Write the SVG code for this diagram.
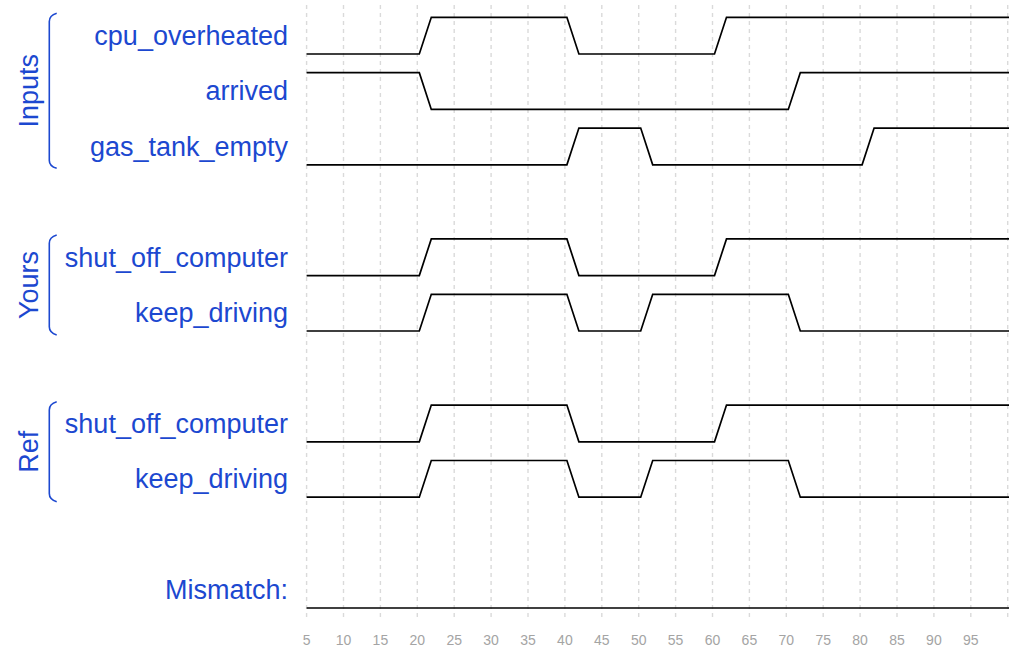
<svg xmlns="http://www.w3.org/2000/svg" width="1024" height="661" viewBox="0 0 1024 661">
<style>
.lbl{font-family:"Liberation Sans",Arial,sans-serif;font-size:27px;fill:#1c48d0;text-anchor:end}
.grp{font-family:"Liberation Sans",Arial,sans-serif;font-size:27px;fill:#1c48d0;text-anchor:middle}
.ax{font-family:"Liberation Sans",Arial,sans-serif;font-size:14px;fill:#a4a4a4;text-anchor:middle}
.grid line{stroke:#dadada;stroke-width:1.4;stroke-dasharray:4 4}
.wave{fill:none;stroke:#000;stroke-width:1.7;stroke-linejoin:miter}
.br{fill:none;stroke:#1c48d0;stroke-width:1.6}
</style>
<rect width="1024" height="661" fill="#fff"/>
<g id="grid" class="grid">
<line x1="306.6" y1="5" x2="306.6" y2="618"/>
<line x1="343.5" y1="5" x2="343.5" y2="618"/>
<line x1="380.4" y1="5" x2="380.4" y2="618"/>
<line x1="417.3" y1="5" x2="417.3" y2="618"/>
<line x1="454.2" y1="5" x2="454.2" y2="618"/>
<line x1="491.1" y1="5" x2="491.1" y2="618"/>
<line x1="528.0" y1="5" x2="528.0" y2="618"/>
<line x1="564.9" y1="5" x2="564.9" y2="618"/>
<line x1="601.8" y1="5" x2="601.8" y2="618"/>
<line x1="638.7" y1="5" x2="638.7" y2="618"/>
<line x1="675.6" y1="5" x2="675.6" y2="618"/>
<line x1="712.5" y1="5" x2="712.5" y2="618"/>
<line x1="749.4" y1="5" x2="749.4" y2="618"/>
<line x1="786.3" y1="5" x2="786.3" y2="618"/>
<line x1="823.2" y1="5" x2="823.2" y2="618"/>
<line x1="860.1" y1="5" x2="860.1" y2="618"/>
<line x1="897.0" y1="5" x2="897.0" y2="618"/>
<line x1="933.9" y1="5" x2="933.9" y2="618"/>
<line x1="970.8" y1="5" x2="970.8" y2="618"/>
<line x1="1007.7" y1="5" x2="1007.7" y2="618"/>
</g>
<g id="axis">
<text class="ax" x="306.6" y="645">5</text>
<text class="ax" x="343.5" y="645">10</text>
<text class="ax" x="380.4" y="645">15</text>
<text class="ax" x="417.3" y="645">20</text>
<text class="ax" x="454.2" y="645">25</text>
<text class="ax" x="491.1" y="645">30</text>
<text class="ax" x="528.0" y="645">35</text>
<text class="ax" x="564.9" y="645">40</text>
<text class="ax" x="601.8" y="645">45</text>
<text class="ax" x="638.7" y="645">50</text>
<text class="ax" x="675.6" y="645">55</text>
<text class="ax" x="712.5" y="645">60</text>
<text class="ax" x="749.4" y="645">65</text>
<text class="ax" x="786.3" y="645">70</text>
<text class="ax" x="823.2" y="645">75</text>
<text class="ax" x="860.1" y="645">80</text>
<text class="ax" x="897.0" y="645">85</text>
<text class="ax" x="933.9" y="645">90</text>
<text class="ax" x="970.8" y="645">95</text>
</g>
<g id="group-inputs">
<path class="br" d="M56.7 13.3 Q49.3 15.5 49.3 21.5 V160.5 Q49.3 166.3 56.7 168.3"/>
<text class="grp" transform="translate(38,90.8) rotate(-90)">Inputs</text>
</g>
<g id="group-yours">
<path class="br" d="M56.7 235 Q49.3 237.2 49.3 243.2 V326.8 Q49.3 332.8 56.7 335"/>
<text class="grp" transform="translate(38,285) rotate(-90)">Yours</text>
</g>
<g id="group-ref">
<path class="br" d="M56.7 401.7 Q49.3 403.9 49.3 409.9 V493.5 Q49.3 499.5 56.7 501.7"/>
<text class="grp" transform="translate(38,451.7) rotate(-90)">Ref</text>
</g>
<g id="sig-cpu_overheated">
<text class="lbl" x="288" y="45">cpu_overheated</text>
<path class="wave" d="M306.6 54 H419.3 L431.3 17.3 H566.9 L578.9 54 H714.5 L726.5 17.3 H1009"/>
</g>
<g id="sig-arrived">
<text class="lbl" x="288" y="100.3">arrived</text>
<path class="wave" d="M306.6 72.7 H419.3 L431.3 109.4 H788.3 L800.3 72.7 H1009"/>
</g>
<g id="sig-gas_tank_empty">
<text class="lbl" x="288" y="155.8">gas_tank_empty</text>
<path class="wave" d="M306.6 164.8 H566.9 L578.9 128.1 H640.7 L652.7 164.8 H862.1 L874.1 128.1 H1009"/>
</g>
<g id="yours-shut_off_computer">
<text class="lbl" x="288" y="266.6">shut_off_computer</text>
<path class="wave" d="M306.6 275.6 H419.3 L431.3 238.9 H566.9 L578.9 275.6 H714.5 L726.5 238.9 H1009"/>
</g>
<g id="yours-keep_driving">
<text class="lbl" x="288" y="322">keep_driving</text>
<path class="wave" d="M306.6 331 H419.3 L431.3 294.3 H566.9 L578.9 331 H640.7 L652.7 294.3 H788.3 L800.3 331 H1009"/>
</g>
<g id="ref-shut_off_computer">
<text class="lbl" x="288" y="432.8">shut_off_computer</text>
<path class="wave" d="M306.6 441.8 H419.3 L431.3 405.1 H566.9 L578.9 441.8 H714.5 L726.5 405.1 H1009"/>
</g>
<g id="ref-keep_driving">
<text class="lbl" x="288" y="488.2">keep_driving</text>
<path class="wave" d="M306.6 497.2 H419.3 L431.3 460.5 H566.9 L578.9 497.2 H640.7 L652.7 460.5 H788.3 L800.3 497.2 H1009"/>
</g>
<g id="mismatch">
<text class="lbl" x="288" y="599">Mismatch:</text>
<path class="wave" d="M306.6 608 H1009"/>
</g>
</svg>
